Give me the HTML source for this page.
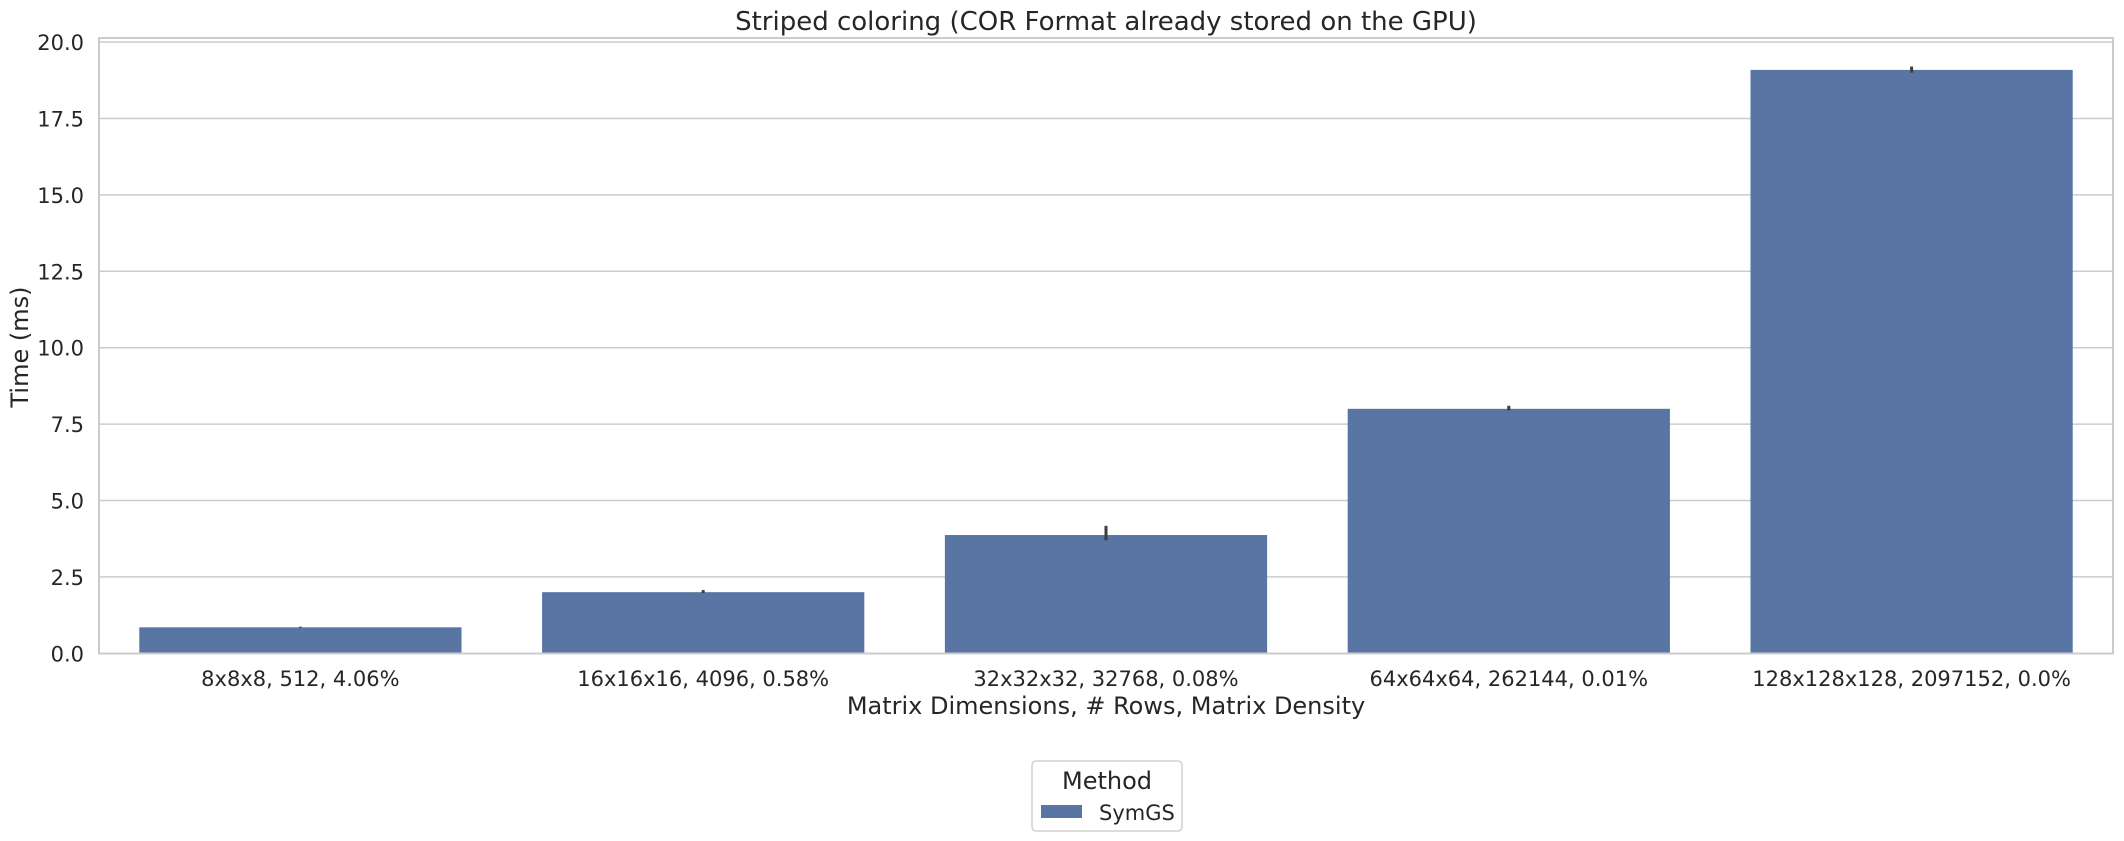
<!DOCTYPE html>
<html><head><meta charset="utf-8"><style>
body{margin:0;background:#fff;}
svg{display:block;font-family:"DejaVu Sans","Liberation Sans",sans-serif;}
</style></head><body>
<svg id="chart" width="2124" height="841">
<text x="1106" y="30" font-size="26" text-anchor="middle" fill="#262626">Striped coloring (COR Format already stored on the GPU)</text>
<g id="grid"></g><g id="bars"></g>
<rect x="99" y="38" width="2014" height="615.5" fill="none" stroke="#cccccc" stroke-width="2"/>
<text x="1106" y="714" font-size="24" text-anchor="middle" fill="#262626">Matrix Dimensions, # Rows, Matrix Density</text>
<text transform="translate(28,347) rotate(-90)" font-size="24" text-anchor="middle" fill="#262626">Time (ms)</text>
<g>
<rect x="1032" y="761" width="150" height="70" rx="4" fill="#fff" stroke="#d0d0d0" stroke-width="1.5"/>
<text x="1107" y="789" font-size="24" text-anchor="middle" fill="#262626">Method</text>
<rect x="1041" y="805" width="41" height="13" fill="#5975a4"/>
<text x="1099" y="820" font-size="21" fill="#262626">SymGS</text>
</g>
</svg>
<script>
const categories=["8x8x8, 512, 4.06%","16x16x16, 4096, 0.58%","32x32x32, 32768, 0.08%","64x64x64, 262144, 0.01%","128x128x128, 2097152, 0.0%"];
const values=[0.85,2.0,3.87,8.0,19.09];
const errLow=[0.84,1.97,3.7,7.95,19.0];
const errHigh=[0.87,2.07,4.17,8.1,19.2];
const yTicks=[0,2.5,5,7.5,10,12.5,15,17.5,20];
const yTickLabels=["0.0","2.5","5.0","7.5","10.0","12.5","15.0","17.5","20.0"];
const L=99,R=2113,Y0=653.3,PX=30.56;
const y=v=>Y0-v*PX;
const band=(R-L)/categories.length;
const xc=i=>L+band*(i+0.5);
const NS="http://www.w3.org/2000/svg";
const grid=document.getElementById('grid'),bars=document.getElementById('bars');
function mk(tag,attrs,parent){const e=document.createElementNS(NS,tag);for(const k in attrs)e.setAttribute(k,attrs[k]);parent.appendChild(e);return e;}
yTicks.forEach((t,i)=>{
 const l=mk('line',{x1:L,x2:R,y1:y(t),y2:y(t),stroke:'#cccccc','stroke-width':1.5},grid);
 
 
 const tx=mk('text',{x:84,y:y(t)+8,'font-size':21,'text-anchor':'end',fill:'#262626'},grid);
 tx.textContent=yTickLabels[i];
 
 
});
categories.forEach((c,i)=>{
 const w=band*0.8;
 const b=mk('rect',{x:xc(i)-w/2,y:y(values[i]),width:w,height:Y0-y(values[i]),fill:'#5975a4'},bars);
 
 
 const e=mk('line',{x1:xc(i),x2:xc(i),y1:y(errLow[i]),y2:y(errHigh[i]),stroke:'#3d3d3d','stroke-width':3},bars);
 
 
 const t=mk('text',{x:xc(i),y:686,'font-size':21,'text-anchor':'middle',fill:'#262626'},bars);
 t.textContent=c;
 
 
});
</script>
</body></html>
